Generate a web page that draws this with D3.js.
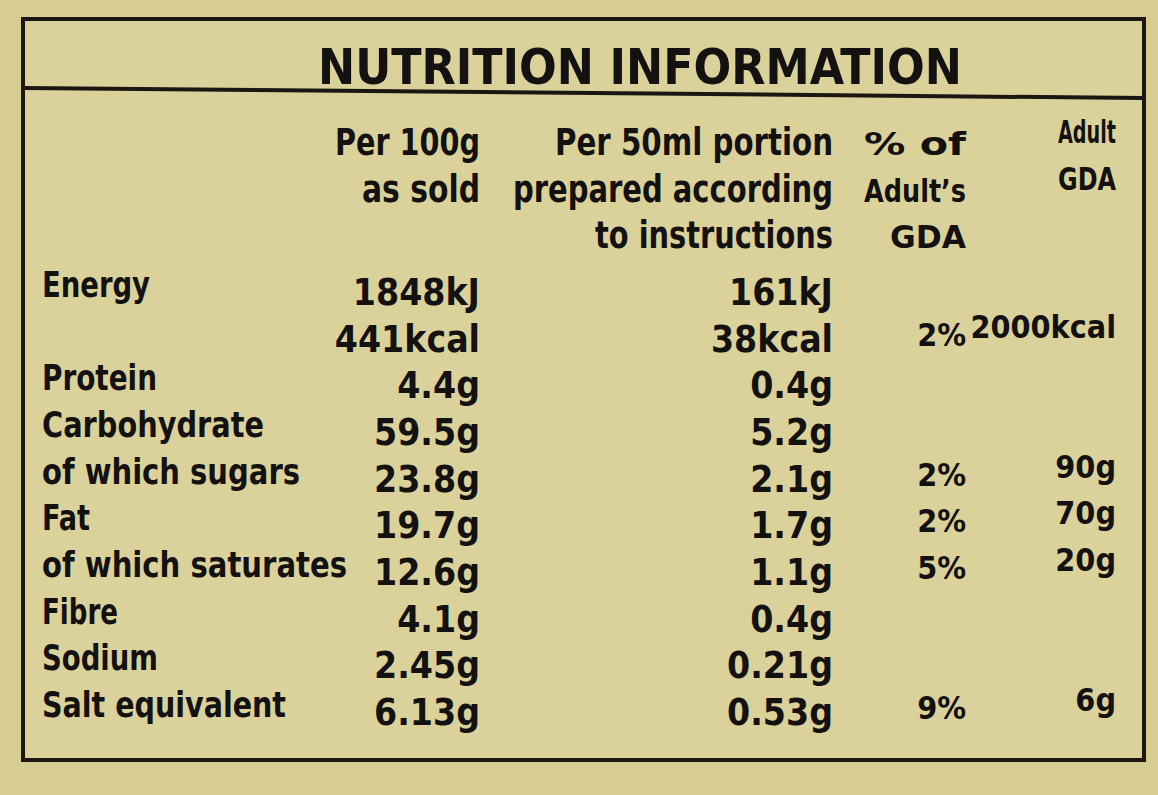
<!DOCTYPE html>
<html><head><meta charset="utf-8">
<script src="https://cdn.jsdelivr.net/npm/d3@7"></script>
<style>body{margin:0;background:#d8ce98}svg{display:block}text{font-family:"DejaVu Sans Condensed","DejaVu Sans",sans-serif;font-weight:bold;fill:#141210}</style>
</head><body><svg id="c" width="1158" height="795"></svg>
<script>
const title = "NUTRITION INFORMATION";
const headers = [
  ["Per 100g","as sold"],
  ["Per 50ml portion","prepared according","to instructions"],
  ["% of","Adult’s","GDA"],
  ["Adult","GDA"]
];
const rowLabels = ["Energy","","Protein","Carbohydrate","of which sugars","Fat","of which saturates","Fibre","Sodium","Salt equivalent"];
const per100 = ["1848kJ","441kcal","4.4g","59.5g","23.8g","19.7g","12.6g","4.1g","2.45g","6.13g"];
const per50 = ["161kJ","38kcal","0.4g","5.2g","2.1g","1.7g","1.1g","0.4g","0.21g","0.53g"];
const pctGDA = ["","2%","","","2%","2%","5%","","","9%"];
const adultGDA = ["","2000kcal","","","90g","70g","20g","","","6g"];

const svg = d3.select("#c");
svg.append("rect").attr("width",1158).attr("height",795).attr("fill","#d7cc92");
svg.append("rect").attr("x",23).attr("y",19).attr("width",1121).attr("height",741)
  .attr("fill","#dbd19b").attr("stroke","#1a1712").attr("stroke-width",4);
svg.append("line").attr("x1",23).attr("x2",1144).attr("y1",88).attr("y2",98)
  .attr("stroke","#1a1712").attr("stroke-width",4);
svg.append("text").attr("x",318).attr("y",84).attr("font-size",50)
  .attr("textLength",644).attr("lengthAdjust","spacingAndGlyphs").text(title);

const colX = d3.scaleOrdinal().domain([0,1,2,3]).range([480,833,966,1116]);
const hdrY = d3.scalePoint().domain([0,1,2]).range([155,248]);
const hdrW = [[145,118],[278,320,238],[102,102,76],[58,58]];
headers.forEach((h,ci)=>{
  h.forEach((t,li)=>{
    svg.append("text").attr("x",colX(ci)).attr("y",hdrY(li) - (ci===3?12:0))
      .attr("text-anchor","end").attr("font-size",ci>=2?32:37)
      .attr("textLength",hdrW[ci][li]).attr("lengthAdjust","spacingAndGlyphs").text(t);
  });
});

const rowY = d3.scalePoint().domain(d3.range(per100.length)).range([305,725]);
const cols = [per100,per50,pctGDA,adultGDA];
const labW = [108,0,115,222,258,48,305,76,116,244];
rowLabels.forEach((t,i)=>{
  if(t) svg.append("text").attr("x",42).attr("y",rowY(i)-8).attr("font-size",35)
    .attr("textLength",labW[i]).attr("lengthAdjust","spacingAndGlyphs").text(t);
});
cols.forEach((arr,ci)=>{
  arr.forEach((t,i)=>{
    if(!t) return;
    const dy = ci===3 ? -14 : (ci===2 ? -6 : 0);
    svg.append("text").attr("x",colX(ci)).attr("y",rowY(i)+dy)
      .attr("text-anchor","end").attr("font-size",ci>=2?32:37).text(t);
  });
});
</script></body></html>
